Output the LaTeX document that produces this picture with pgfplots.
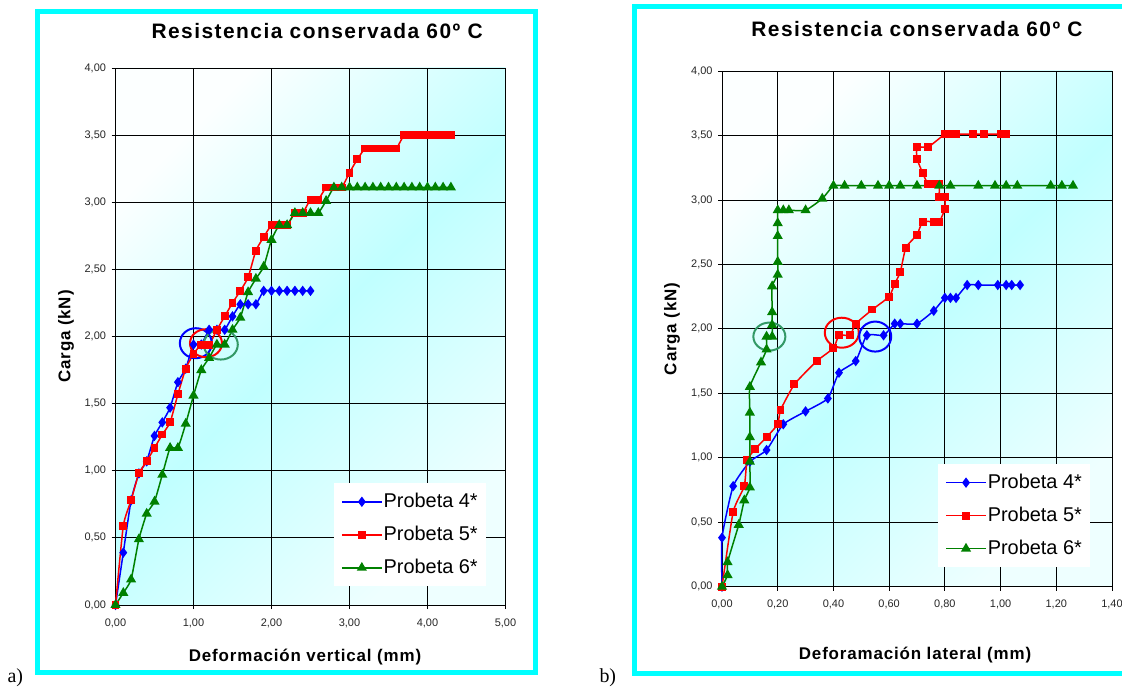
\documentclass[border=0pt]{standalone}
\usepackage{fontspec}
\setmainfont{Liberation Sans}
\newfontfamily\titlefont[LetterSpace=7]{Liberation Sans}
\newfontfamily\labfont[LetterSpace=5]{Liberation Sans}
\newfontfamily\seriffont{Liberation Serif}
\usepackage{pgfplots}
\pgfplotsset{compat=1.18}

\definecolor{bgA}{RGB}{252,255,255}
\definecolor{bgB}{RGB}{192,255,255}
\definecolor{bgC}{RGB}{238,255,255}
\definecolor{myblue}{RGB}{0,0,255}
\definecolor{myred}{RGB}{255,0,0}
\definecolor{mygreen}{RGB}{0,128,0}
\definecolor{circgreen}{RGB}{51,153,102}
\definecolor{bordercyan}{RGB}{0,255,255}

\pgfplotstableread{
x y
0 0
0.1 0.39
0.2 0.78
0.3 0.98
0.4 1.07
0.5 1.26
0.6 1.36
0.7 1.47
0.8 1.66
0.9 1.76
1.0 1.94
1.1 1.94
1.2 2.05
1.3 2.05
1.4 2.05
1.5 2.15
1.6 2.24
1.7 2.24
1.8 2.24
1.9 2.34
2.0 2.34
2.1 2.34
2.2 2.34
2.3 2.34
2.4 2.34
2.5 2.34
}\vFour

\pgfplotstableread{
x y
0 0
0.1 0.59
0.2 0.78
0.3 0.98
0.4 1.07
0.5 1.17
0.6 1.27
0.7 1.36
0.8 1.57
0.9 1.76
1.0 1.87
1.1 1.94
1.2 1.94
1.3 2.05
1.4 2.15
1.5 2.25
1.6 2.34
1.7 2.44
1.8 2.64
1.9 2.74
2.0 2.83
2.1 2.83
2.2 2.83
2.3 2.92
2.4 2.92
2.5 3.02
2.6 3.02
2.7 3.11
2.8 3.11
2.9 3.11
3.0 3.22
3.1 3.32
3.2 3.40
3.3 3.40
3.4 3.40
3.5 3.40
3.6 3.40
3.7 3.50
3.8 3.50
3.9 3.50
4.0 3.50
4.1 3.50
4.2 3.50
4.3 3.50
}\vFive

\pgfplotstableread{
x y
0 0
0.1 0.09
0.2 0.19
0.3 0.49
0.4 0.68
0.5 0.77
0.6 0.97
0.7 1.17
0.8 1.17
0.9 1.35
1.0 1.56
1.1 1.75
1.2 1.84
1.3 1.94
1.4 1.94
1.5 2.05
1.6 2.14
1.7 2.33
1.8 2.43
1.9 2.52
2.0 2.72
2.1 2.83
2.2 2.83
2.3 2.92
2.4 2.92
2.5 2.92
2.6 2.92
2.7 3.01
2.8 3.11
2.9 3.11
3.0 3.11
3.1 3.11
3.2 3.11
3.3 3.11
3.4 3.11
3.5 3.11
3.6 3.11
3.7 3.11
3.8 3.11
3.9 3.11
4.0 3.11
4.1 3.11
4.2 3.11
4.3 3.11
}\vSix

\pgfplotstableread{
x y
0 0
0 0.38
0.04 0.78
0.10 0.97
0.16 1.06
0.22 1.26
0.30 1.36
0.38 1.46
0.42 1.66
0.48 1.75
0.52 1.95
0.58 1.95
0.62 2.04
0.64 2.04
0.70 2.04
0.76 2.14
0.80 2.24
0.82 2.24
0.84 2.24
0.88 2.34
0.92 2.34
0.99 2.34
1.02 2.34
1.04 2.34
1.07 2.34
}\lFour

\pgfplotstableread{
x y
0 0
0.04 0.58
0.08 0.78
0.09 0.98
0.12 1.07
0.16 1.16
0.20 1.26
0.21 1.37
0.26 1.57
0.34 1.75
0.40 1.85
0.42 1.95
0.46 1.95
0.48 2.04
0.54 2.15
0.60 2.25
0.62 2.35
0.64 2.44
0.66 2.63
0.70 2.73
0.72 2.83
0.76 2.83
0.78 2.83
0.80 2.93
0.80 3.02
0.78 3.02
0.78 3.12
0.76 3.12
0.74 3.12
0.72 3.21
0.70 3.32
0.70 3.41
0.74 3.41
0.80 3.51
0.82 3.51
0.84 3.51
0.90 3.51
0.94 3.51
1.00 3.51
1.02 3.51
}\lFive

\pgfplotstableread{
x y
0 0
0.02 0.09
0.02 0.19
0.06 0.48
0.08 0.67
0.10 0.77
0.10 0.97
0.10 1.16
0.10 1.35
0.10 1.55
0.14 1.74
0.16 1.84
0.16 1.94
0.18 1.94
0.18 2.03
0.18 2.13
0.18 2.33
0.20 2.42
0.20 2.52
0.20 2.72
0.20 2.82
0.20 2.92
0.22 2.92
0.24 2.92
0.30 2.92
0.36 3.01
0.40 3.11
0.44 3.11
0.50 3.11
0.56 3.11
0.60 3.11
0.64 3.11
0.70 3.11
0.78 3.11
0.82 3.11
0.92 3.11
0.98 3.11
1.02 3.11
1.06 3.11
1.18 3.11
1.22 3.11
1.26 3.11
}\lSix

\pgfplotsset{
  mystyle/.style={
    scale only axis,
    width=390bp,
    ymin=0, ymax=4,
    ytick={0,0.5,1,1.5,2,2.5,3,3.5,4},
    clip=false,
    grid=major,
    major grid style={black, line width=0.8bp},
    axis line style={black, line width=0.8bp},
    tick style={black, line width=0.8bp},
    tick align=outside,
    major tick length=4bp,
    xtick pos=bottom, ytick pos=left,
    tick label style={font=\fontsize{11}{13}\selectfont, text=black!85},
    xticklabel style={yshift=-6bp},
    yticklabel style={xshift=-2bp},
    /pgf/number format/fixed,
    /pgf/number format/fixed zerofill,
    /pgf/number format/precision=2,
    /pgf/number format/use comma,
    /pgf/number format/assume math mode=true,
    axis background/.style={shade, top color=bgA, bottom color=bgC, middle color=bgB, shading angle=45},
    every axis title shift=0pt,
    title style={anchor=center, font=\fontsize{21}{25}\selectfont\titlefont\bfseries},
    xlabel style={anchor=center, font=\fontsize{17}{20}\selectfont\labfont\bfseries},
    ylabel style={anchor=center, font=\fontsize{17}{20}\selectfont\labfont\bfseries},
    legend cell align=left,
    legend style={draw=none, fill=white, anchor=north west,
      font=\fontsize{20}{24}\selectfont,
      inner xsep=7bp, inner ysep=8bp, row sep=12bp,
      nodes={inner sep=1bp, text height=15bp, text depth=4bp},
      /tikz/every even column/.append style={column sep=4bp}},
    legend image code/.code={\draw[mark repeat=2,mark phase=2] plot coordinates {(0bp,0bp) (20bp,0bp) (40bp,0bp)};},
    every axis plot/.append style={line width=1.5bp, smooth, tension=0.3},
  },
  s4/.style={myblue, mark=diamond*, mark size=4bp, mark options={solid, fill=myblue}},
  s5/.style={myred, mark=square*, mark size=3.2bp, mark options={solid, fill=myred}},
  s6/.style={mygreen, mark=triangle*, mark size=4.4bp, mark options={solid, fill=mygreen}},
}

\begin{document}
\begin{tikzpicture}
\useasboundingbox (0,0) rectangle (1122bp,688bp);
\draw[bordercyan, line width=5bp] (37bp,676bp) rectangle (535bp,15bp);
\draw[bordercyan, line width=5bp] (634bp,681bp) rectangle (1145bp,14bp);
\node[font=\fontsize{20}{24}\selectfont\seriffont, anchor=base west] at (4bp,6bp) {a)};
\node[font=\fontsize{20}{24}\selectfont\seriffont, anchor=base west] at (596bp,6bp) {b)};

\begin{axis}[mystyle,
  at={(115.5bp,83bp)}, anchor=south west,
  height=537bp,
  xmin=0, xmax=5, xtick={0,1,2,3,4,5},
  title={Resistencia conservada 60º C},
  title style={at={(axis description cs:0.517,1.069)}},
  xlabel={Deformación vertical (mm)},
  xlabel style={at={(axis description cs:0.486,-0.097)}},
  ylabel={Carga (kN)},
  ylabel style={at={(axis description cs:-0.127,0.5)}},
  legend style={at={(axis description cs:0.56,0.227)}},
]
\addplot[s4] table {\vFour};
\addplot[s5] table {\vFive};
\addplot[s6] table {\vSix};
\legend{Probeta 4*, Probeta 5*, Probeta 6*}
\draw[myblue, line width=2bp] (axis cs:1.03,1.95) ellipse [x radius=16bp, y radius=15bp];
\draw[myred, line width=2bp] (axis cs:1.16,1.95) ellipse [x radius=16bp, y radius=14bp];
\draw[circgreen, line width=2bp] (axis cs:1.35,1.94) ellipse [x radius=17bp, y radius=15bp];
\end{axis}

\begin{axis}[mystyle,
  at={(722bp,101.3bp)}, anchor=south west,
  height=515.7bp,
  xmin=0, xmax=1.4, xtick={0,0.2,0.4,0.6,0.8,1.0,1.2,1.4},
  title={Resistencia conservada 60º C},
  title style={at={(axis description cs:0.5,1.081)}},
  xlabel={Deforamación lateral (mm)},
  xlabel style={at={(axis description cs:0.495,-0.132)}},
  ylabel={Carga (kN)},
  ylabel style={at={(axis description cs:-0.128,0.5)}},
  legend style={at={(axis description cs:0.554,0.238)}},
]
\addplot[s4] table {\lFour};
\addplot[s5] table {\lFive};
\addplot[s6] table {\lSix};
\legend{Probeta 4*, Probeta 5*, Probeta 6*}
\draw[circgreen, line width=2bp] (axis cs:0.17,1.94) ellipse [x radius=16bp, y radius=14bp];
\draw[myred, line width=2bp] (axis cs:0.43,1.97) ellipse [x radius=17bp, y radius=15bp];
\draw[myblue, line width=2bp] (axis cs:0.55,1.94) ellipse [x radius=16bp, y radius=15bp];
\end{axis}
\end{tikzpicture}
\end{document}
